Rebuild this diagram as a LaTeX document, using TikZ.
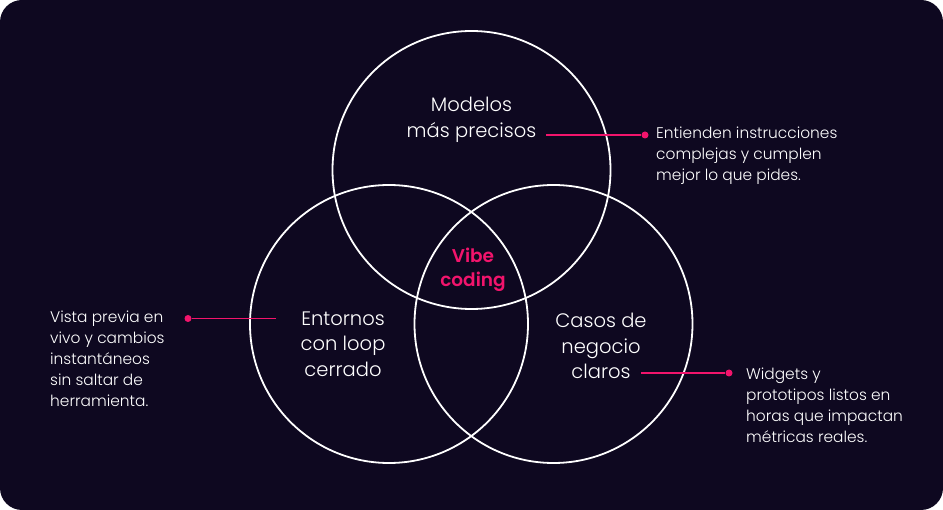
\documentclass[tikz,border=0pt]{standalone}
\usepackage{fontspec}
\setmainfont{Poppins}[UprightFont=* Light, BoldFont=* SemiBold]
\definecolor{bgnavy}{HTML}{0E0820}
\definecolor{vibepink}{HTML}{F2146C}
\tikzset{
  ring/.style={draw=white, line width=1.8pt},
  biglabel/.style={text=white, align=center, inner sep=0pt, font=\fontsize{19.5}{25.5}\selectfont},
  sidetext/.style={text=white, align=left, anchor=west, inner sep=0pt, font=\fontsize{15.4}{21}\selectfont},
  pinkdot/.style={circle, fill=vibepink, inner sep=0pt, minimum size=7pt},
  pinkline/.style={draw=vibepink, line width=1.6pt}
}
\begin{document}
\begin{tikzpicture}[x=1pt, y=-1pt]
\fill [white] (0, 0) rectangle (943, 510) ;
\fill [bgnavy, rounded corners=22pt] (0, 0) rectangle (943, 510) ;
\useasboundingbox (0, 0) rectangle (943, 510) ;
% three circles
\draw [ring] (471.5, 170) circle (139) ;
\draw [ring] (389, 324) circle (139) ;
\draw [ring] (553.5, 324) circle (139) ;
% labels inside
\node [biglabel] (modelos) at (471.5, 120) {Modelos\\más precisos};
\node [biglabel] (entornos) at (343, 344) {Entornos\\con loop\\cerrado};
\node [biglabel] (casos) at (601, 346) {Casos de\\negocio\\claros};
\node [biglabel, text=vibepink, font=\bfseries\fontsize{18.5}{24}\selectfont] (vibe) at (473, 270) {Vibe\\coding};
% side notes
\node [sidetext] (nota1) at (656, 155.5) {Entienden instrucciones\\complejas y cumplen\\mejor lo que pides.};
\node [sidetext] (nota2) at (50, 359) {Vista previa en\\vivo y cambios\\instantáneos\\sin saltar de\\herramienta.};
\node [sidetext] (nota3) at (746, 405.5) {Widgets y\\prototipos listos en\\horas que impactan\\métricas reales.};
% pointers
\coordinate (p1) at (546, 135) ;
\node [pinkdot] (d1) at (645, 135) {};
\coordinate (p2) at (276, 318.5) ;
\node [pinkdot] (d2) at (188, 318.5) {};
\coordinate (p3) at (641, 373) ;
\node [pinkdot] (d3) at (729, 373) {};
\draw [pinkline] (p1) -- (d1) ;
\draw [pinkline] (p2) -- (d2) ;
\draw [pinkline] (p3) -- (d3) ;
\end{tikzpicture}
\end{document}
